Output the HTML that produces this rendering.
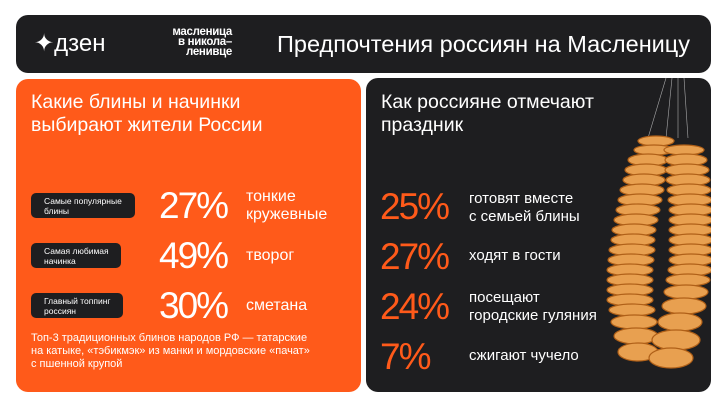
<!DOCTYPE html>
<html><head><meta charset="utf-8"><style>
*{margin:0;padding:0;box-sizing:border-box}
body{width:726px;height:408px;background:#fff;position:relative;overflow:hidden;font-family:"Liberation Sans","DejaVu Sans",sans-serif}
.a{position:absolute;white-space:nowrap}
#hdr{left:16px;top:15px;width:695px;height:58px;background:#1e1e20;border-radius:12px}
#or{left:16px;top:79px;width:345px;height:313px;background:#ff5a1a;border-radius:12px}
#dk{left:366px;top:78px;width:345px;height:314px;background:#1e1e20;border-radius:12px;overflow:hidden}
.lb{background:#1e1e20;border-radius:5px;color:#fff;font-size:8.5px;line-height:10px;padding:3px 0 0 13px;height:25px}
.big{font-size:37px;color:#fff;line-height:40px;letter-spacing:-2px}
.w{font-size:16px;color:#fff;line-height:18px}
.ob{font-size:37px;color:#ff5a1a;line-height:40px;letter-spacing:-2px}
.t{font-size:15px;color:#fff;line-height:18px}
</style></head><body>
<div class="a" id="hdr"></div>
<div class="a" style="left:34px;top:30px;color:#fff;font-size:24px;line-height:28px">✦дзен</div>
<div class="a" style="left:140px;top:27px;color:#fff;font-size:11.5px;font-weight:bold;line-height:10px;text-align:right;width:92px;letter-spacing:-0.3px">масленица<br>в никола–<br>ленивце</div>
<div class="a" style="left:277px;top:30px;color:#fff;font-size:23.5px;line-height:28px">Предпочтения россиян на Масленицу</div>

<div class="a" id="or"></div>
<div class="a" style="left:31px;top:91px;color:#fff;font-size:19.5px;line-height:23px">Какие блины и начинки<br>выбирают жители России</div>
<div class="a lb" style="left:31px;top:193px;width:104px">Самые популярные<br>блины</div>
<div class="a lb" style="left:31px;top:243px;width:90px">Самая любимая<br>начинка</div>
<div class="a lb" style="left:31px;top:293px;width:92px">Главный топпинг<br>россиян</div>
<div class="a big" style="left:159px;top:186px">27%</div>
<div class="a big" style="left:159px;top:236px">49%</div>
<div class="a big" style="left:159px;top:286px">30%</div>
<div class="a w" style="left:246px;top:188px">тонкие<br>кружевные</div>
<div class="a w" style="left:246px;top:247px">творог</div>
<div class="a w" style="left:246px;top:297px">сметана</div>
<div class="a" style="left:31px;top:332px;color:#fff;font-size:11px;line-height:13px">Топ-3 традиционных блинов народов РФ — татарские<br>на катыке, «тэбикмэк» из манки и мордовские «пачат»<br>с пшенной крупой</div>

<div class="a" id="dk">
<svg width="345" height="314" style="position:absolute;left:0;top:0">
<g stroke="#aaa" stroke-width="0.6"><line x1="300" y1="0" x2="282" y2="60"/><line x1="306" y1="0" x2="300" y2="60"/><line x1="312" y1="0" x2="312" y2="60"/><line x1="318" y1="0" x2="322" y2="60"/></g>
<g fill="#e8a050" stroke="#b06018" stroke-width="1.2">
<ellipse cx="290" cy="63" rx="18" ry="5"/><ellipse cx="288" cy="72" rx="20" ry="5"/>
<ellipse cx="282" cy="82" rx="20" ry="6"/><ellipse cx="280" cy="92" rx="21" ry="6"/><ellipse cx="278" cy="102" rx="21" ry="6"/><ellipse cx="276" cy="112" rx="22" ry="6"/><ellipse cx="274" cy="122" rx="22" ry="6"/><ellipse cx="272" cy="132" rx="22" ry="6"/><ellipse cx="270" cy="142" rx="22" ry="6"/><ellipse cx="268" cy="152" rx="22" ry="6"/><ellipse cx="267" cy="162" rx="22" ry="6"/><ellipse cx="266" cy="172" rx="23" ry="6"/><ellipse cx="265" cy="182" rx="23" ry="6"/><ellipse cx="264" cy="192" rx="23" ry="6"/><ellipse cx="264" cy="202" rx="23" ry="6"/><ellipse cx="264" cy="212" rx="23" ry="6"/><ellipse cx="264" cy="222" rx="23" ry="6"/><ellipse cx="266" cy="232" rx="23" ry="6"/><ellipse cx="268" cy="244" rx="23" ry="7"/><ellipse cx="270" cy="258" rx="22" ry="8"/><ellipse cx="272" cy="274" rx="20" ry="9"/>
<ellipse cx="318" cy="72" rx="20" ry="5"/><ellipse cx="320" cy="82" rx="21" ry="6"/><ellipse cx="321" cy="92" rx="22" ry="6"/><ellipse cx="322" cy="102" rx="22" ry="6"/><ellipse cx="323" cy="112" rx="22" ry="6"/><ellipse cx="324" cy="122" rx="22" ry="6"/><ellipse cx="325" cy="132" rx="22" ry="6"/><ellipse cx="325" cy="142" rx="22" ry="6"/><ellipse cx="325" cy="152" rx="22" ry="6"/><ellipse cx="325" cy="162" rx="22" ry="6"/><ellipse cx="325" cy="172" rx="22" ry="6"/><ellipse cx="325" cy="182" rx="22" ry="6"/><ellipse cx="324" cy="192" rx="22" ry="6"/><ellipse cx="322" cy="202" rx="22" ry="6"/><ellipse cx="320" cy="214" rx="22" ry="7"/><ellipse cx="318" cy="228" rx="22" ry="8"/><ellipse cx="314" cy="244" rx="22" ry="9"/><ellipse cx="310" cy="262" rx="24" ry="10"/><ellipse cx="305" cy="280" rx="22" ry="10"/>
</g></svg>
</div>
<div class="a" style="left:381px;top:91px;color:#fff;font-size:19.5px;line-height:23px">Как россияне отмечают<br>праздник</div>
<div class="a ob" style="left:380px;top:187px">25%</div>
<div class="a ob" style="left:380px;top:237px">27%</div>
<div class="a ob" style="left:380px;top:287px">24%</div>
<div class="a ob" style="left:380px;top:337px">7%</div>
<div class="a t" style="left:469px;top:190px">готовят вместе<br>с семьей блины</div>
<div class="a t" style="left:469px;top:247px">ходят в гости</div>
<div class="a t" style="left:469px;top:289px">посещают<br>городские гуляния</div>
<div class="a t" style="left:469px;top:347px">сжигают чучело</div>
</body></html>
